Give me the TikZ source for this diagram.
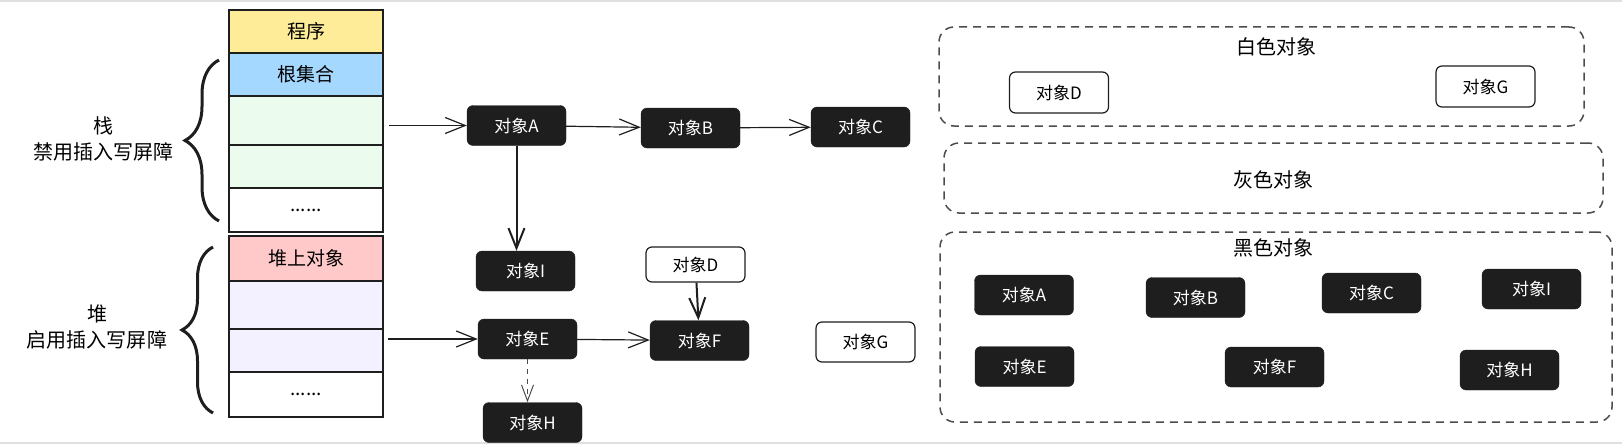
\documentclass[tikz,border=0pt]{standalone}
\usepackage{fontspec}
\setmainfont{Noto Sans CJK SC}
\usetikzlibrary{arrows.meta,decorations.pathreplacing}

\definecolor{progyellow}{HTML}{FFEC99}
\definecolor{rootblue}{HTML}{A5D8FF}
\definecolor{stackgreen}{HTML}{EBFBEE}
\definecolor{heappink}{HTML}{FFC9C9}
\definecolor{heappurple}{HTML}{F3F0FF}
\definecolor{inkblack}{HTML}{1E1E1E}

\tikzset{
    cell/.style={draw=inkblack, line width=2pt, minimum width=154, inner sep=0pt,
        font=\fontsize{19}{22}\selectfont},
    objblack/.style={fill=inkblack, draw=inkblack, text=white, rounded corners=6pt,
        minimum width=99, minimum height=40, inner sep=0pt, font=\fontsize{17}{20}\selectfont},
    objwhite/.style={fill=white, draw=inkblack, line width=1.2pt, rounded corners=6pt,
        minimum width=99, minimum height=40, inner sep=0pt, font=\fontsize{17}{20}\selectfont},
    group/.style={draw=black!70, line width=1.5pt, dash pattern=on 8pt off 6pt,
        rounded corners=15pt, inner sep=0pt},
    title/.style={font=\fontsize{20}{26}\selectfont, align=center},
    arr/.style={-{Straight Barb[length=20pt,width=16pt]}, line width=1.2pt, draw=inkblack},
    thickarr/.style={-{Straight Barb[length=20pt,width=16pt]}, line width=2pt, draw=inkblack},
    dasharr/.style={-{Straight Barb[length=16pt,width=12pt]}, line width=1pt, draw=black!70,
        dash pattern=on 5pt off 5pt},
    bracket/.style={decorate, line width=3pt, draw=inkblack}
}

\begin{document}
\begin{tikzpicture}[x=1pt, y=-1pt]
    \useasboundingbox (0,0) rectangle (1622,444);
    \draw[black!12, line width=2pt] (0,1) -- (1622,1);
    \draw[black!12, line width=2pt] (0,443) -- (1622,443);

    %Stack column
    \node[cell, fill=progyellow, minimum height=43] (prog) at (306,31.5) {程序};
    \node[cell, fill=rootblue, minimum height=43] (root) at (306,74.5) {根集合};
    \node[cell, fill=stackgreen, minimum height=49] (stk1) at (306,120.5) {};
    \node[cell, fill=stackgreen, minimum height=43] (stk2) at (306,166.5) {};
    \node[cell, fill=white, minimum height=44] (stkdots) at (306,210) {......};

    %Heap column
    \node[cell, fill=heappink, minimum height=45] (heaptop) at (306,258.5) {堆上对象};
    \node[cell, fill=heappurple, minimum height=48] (hp1) at (306,305) {};
    \node[cell, fill=heappurple, minimum height=43] (hp2) at (306,350.5) {};
    \node[cell, fill=white, minimum height=45] (hpdots) at (306,394.5) {......};

    %Braces and labels
    \draw[bracket, decoration={brace, amplitude=34pt}] (219,221) -- (219,60);
    \draw[bracket, decoration={brace, amplitude=31pt}] (213,413) -- (213,247);
    \node[title] (stacklbl) at (103,139) {栈\\禁用插入写屏障};
    \node[title] (heaplbl) at (97,327) {堆\\启用插入写屏障};

    %Reference graph
    \node[objblack] (objA) at (516.5,125.5) {对象A};
    \node[objblack] (objB) at (690.5,128) {对象B};
    \node[objblack] (objC) at (860.5,127) {对象C};
    \node[objblack] (objI) at (525.5,271) {对象I};
    \node[objwhite, minimum height=35] (objD) at (695.5,264.5) {对象D};
    \node[objblack] (objE) at (527.5,339) {对象E};
    \node[objblack] (objF) at (699.5,340.5) {对象F};
    \node[objblack] (objH) at (532.5,422.5) {对象H};
    \node[objwhite] (objG) at (865.5,342) {对象G};

    \draw[arr, shorten <=5pt] (stk1.east |- objA) -- (objA);
    \draw[arr] (objA) -- (objB);
    \draw[arr] (objB) -- (objC);
    \draw[thickarr] (objA) -- (objA |- objI.north);
    \draw[arr, shorten <=4pt] (hp2.east |- objE) -- (objE);
    \draw[arr] (objE) -- (objF);
    \draw[thickarr] (objD) -- (objF);
    \draw[dasharr] (objE) -- (objE |- objH.north);

    %White objects
    \node[group, minimum width=645, minimum height=99] (whitegrp) at (1261.5,76.5) {};
    \node[title] (whitettl) at (1276,47) {白色对象};
    \node[objwhite, minimum height=41] (wD) at (1059,92.5) {对象D};
    \node[objwhite, minimum height=41] (wG) at (1485.5,86.5) {对象G};

    %Grey objects
    \node[group, minimum width=659, minimum height=70] (greygrp) at (1273.5,178) {};
    \node[title] (greyttl) at (1273,180) {灰色对象};

    %Black objects
    \node[group, minimum width=672, minimum height=190] (blackgrp) at (1276,327) {};
    \node[title] (blackttl) at (1273,248) {黑色对象};
    \node[objblack] (bA) at (1024,295) {对象A};
    \node[objblack] (bB) at (1195.5,297.5) {对象B};
    \node[objblack] (bC) at (1371.5,293) {对象C};
    \node[objblack] (bI) at (1531.5,289) {对象I};
    \node[objblack] (bE) at (1024.5,366.5) {对象E};
    \node[objblack] (bF) at (1274.5,367) {对象F};
    \node[objblack] (bH) at (1509.5,370) {对象H};
\end{tikzpicture}
\end{document}
